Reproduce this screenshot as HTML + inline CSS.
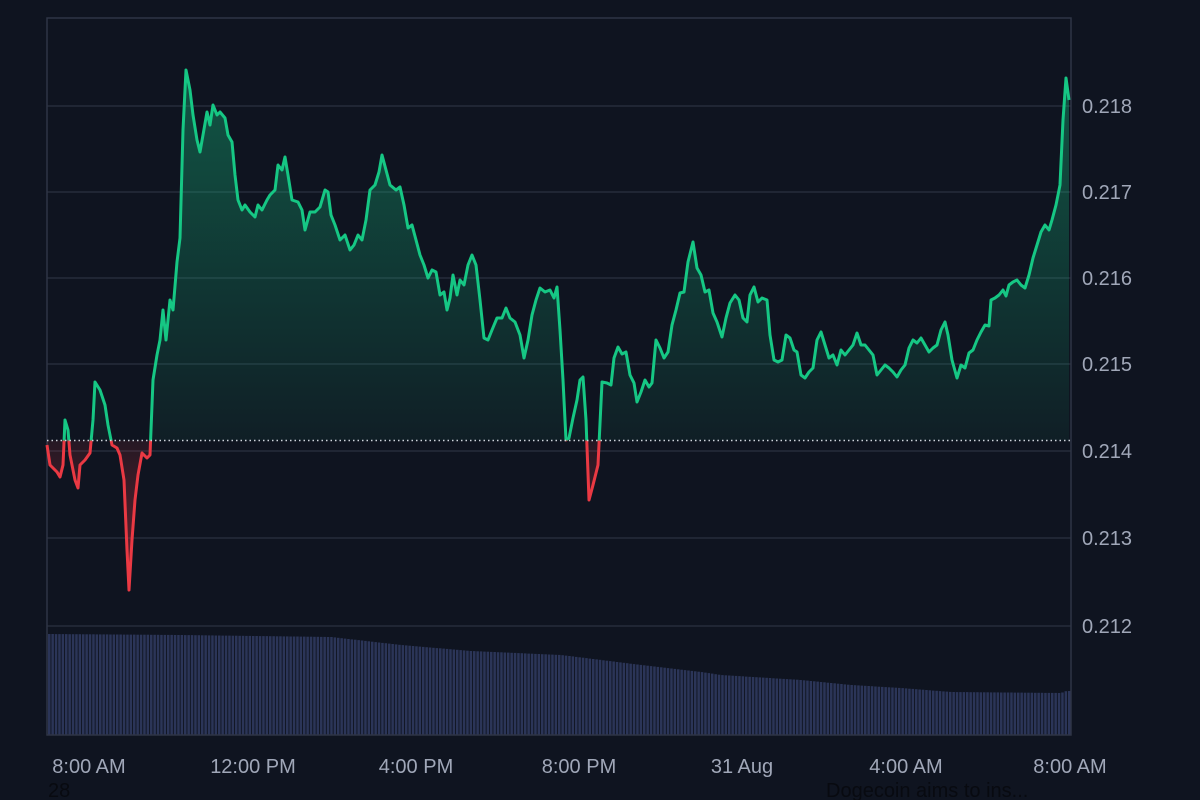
<!DOCTYPE html>
<html><head><style>
html,body{margin:0;padding:0;background:#0f1420;width:1200px;height:800px;overflow:hidden;font-family:"Liberation Sans",sans-serif}
svg{position:absolute;left:0;top:0}
</style></head><body>
<svg id="s" width="1200" height="800" xmlns="http://www.w3.org/2000/svg">
<defs>
<linearGradient id="g" x1="0" y1="60" x2="0" y2="440" gradientUnits="userSpaceOnUse">
<stop offset="0" stop-color="#16c784" stop-opacity="0.38"/><stop offset="1" stop-color="#16c784" stop-opacity="0.06"/></linearGradient>
<linearGradient id="r" x1="0" y1="440" x2="0" y2="600" gradientUnits="userSpaceOnUse">
<stop offset="0" stop-color="#ea3943" stop-opacity="0.1"/><stop offset="1" stop-color="#ea3943" stop-opacity="0.45"/></linearGradient>
<clipPath id="ca"><rect x="0" y="0" width="1200" height="440.5"/></clipPath>
<clipPath id="cb"><rect x="0" y="440.5" width="1200" height="400"/></clipPath>
</defs>
<g stroke="#2a3040" stroke-width="1.2">
<line x1="47" y1="106" x2="1071" y2="106"/><line x1="47" y1="192" x2="1071" y2="192"/>
<line x1="47" y1="278" x2="1071" y2="278"/><line x1="47" y1="364" x2="1071" y2="364"/>
<line x1="47" y1="451" x2="1071" y2="451"/><line x1="47" y1="538" x2="1071" y2="538"/>
<line x1="47" y1="626" x2="1071" y2="626"/>
</g>
<g id="vol" fill="#2b3558"></g>
<rect x="47" y="18" width="1024" height="717" fill="none" stroke="#2f3545" stroke-width="1.5"/>
<g id="ar"></g>
<line x1="47" y1="440.5" x2="1071" y2="440.5" stroke="#d0d4dc" stroke-width="1.5" stroke-dasharray="1.5,3"/>
<g fill="#a0a7b8" font-size="20">
<text x="1082" y="113">0.218</text><text x="1082" y="199">0.217</text><text x="1082" y="285">0.216</text>
<text x="1082" y="371">0.215</text><text x="1082" y="458">0.214</text><text x="1082" y="545">0.213</text>
<text x="1082" y="633">0.212</text>
<text x="89" y="773" text-anchor="middle">8:00 AM</text><text x="253" y="773" text-anchor="middle">12:00 PM</text>
<text x="416" y="773" text-anchor="middle">4:00 PM</text><text x="579" y="773" text-anchor="middle">8:00 PM</text>
<text x="742" y="773" text-anchor="middle">31 Aug</text><text x="906" y="773" text-anchor="middle">4:00 AM</text>
<text x="1070" y="773" text-anchor="middle">8:00 AM</text>
</g>
<text x="48" y="797" font-size="20" fill="#080a10">28</text>
<text x="826" y="797" font-size="20" fill="#080a10">Dogecoin aims to ins...</text>
</svg>
<script>
var P=[47,445,50,465,57,472,60,477,63,465,65,420,68,430,70,455,75,480,78,488,80,465,85,460,90,453,93,420,95,382,100,390,105,405,108,425,112,445,117,448,120,455,124,480,127,550,129,590,132,540,135,500,138,475,142,453,147,458,150,455,153,380,157,355,160,340,163,310,166,340,170,300,173,310,177,262,180,238,183,130,186,70,190,90,193,115,197,140,200,152,203,135,207,112,210,125,213,105,217,115,220,112,225,118,228,135,232,142,235,175,238,200,242,210,245,205,250,212,255,217,258,205,262,210,267,200,270,195,275,190,278,165,282,170,285,157,288,175,292,200,298,202,302,210,305,230,310,212,315,212,320,207,325,190,328,192,331,215,335,225,340,240,345,235,350,250,354,245,358,235,362,240,366,220,370,190,375,185,379,172,382,155,386,170,390,185,396,190,400,187,404,205,408,228,412,225,416,240,420,255,424,265,428,278,432,270,436,272,440,295,444,292,447,310,450,298,453,275,457,295,460,280,464,285,468,265,472,255,476,265,480,300,484,338,488,340,492,330,497,318,502,318,506,308,510,318,515,322,520,335,524,358,528,340,532,315,536,300,540,288,545,292,550,290,554,298,557,287,560,330,563,380,566,440,569,438,573,418,577,400,580,380,583,377,586,420,589,500,593,485,598,465,602,382,607,383,611,385,614,358,618,347,622,354,626,352,630,375,634,383,637,402,641,392,645,380,649,387,652,383,656,340,660,348,664,358,668,352,672,325,676,310,680,293,684,292,688,262,693,242,697,268,701,275,705,292,709,290,713,313,717,322,722,337,726,318,730,303,735,295,739,300,743,318,747,322,750,295,754,287,758,302,762,298,767,300,770,335,774,360,778,362,782,360,786,335,790,338,794,350,797,352,801,375,805,378,809,372,813,368,817,340,821,332,825,345,829,358,833,355,837,365,841,350,845,355,849,350,853,345,857,333,861,345,865,345,869,350,873,355,877,375,881,370,885,365,889,368,893,372,897,377,901,370,905,365,909,348,913,340,917,343,921,338,925,345,929,352,933,348,937,345,941,330,945,322,948,335,952,360,957,378,961,365,965,368,969,353,973,350,977,340,981,332,985,325,989,326,991,300,995,298,999,295,1003,290,1006,296,1009,285,1013,282,1017,280,1021,285,1025,288,1029,275,1033,258,1037,245,1041,232,1045,225,1049,230,1052,220,1056,205,1060,185,1063,120,1066,78,1069,100];
var pts=[];for(var i=0;i<P.length;i+=2)pts.push(P[i]+','+P[i+1]);
var line=pts.join(' ');var area='47,440.5 '+line+' 1069,440.5';
var ns='http://www.w3.org/2000/svg';
document.getElementById('ar').innerHTML=
'<polygon points="'+area+'" fill="url(#g)" clip-path="url(#ca)"/>'+
'<polygon points="'+area+'" fill="url(#r)" clip-path="url(#cb)"/>'+
'<polyline points="'+line+'" fill="none" stroke="#16c784" stroke-width="3" stroke-linejoin="round" clip-path="url(#ca)"/>'+
'<polyline points="'+line+'" fill="none" stroke="#ea3943" stroke-width="3" stroke-linejoin="round" clip-path="url(#cb)"/>';
var V=[[47,634],[180,635],[330,637],[400,645],[470,651],[560,655],[600,660],[640,665],[700,672],[720,675],[800,680],[850,685],[900,688],[950,692],[1060,693],[1065,691],[1070,691]];
function vt(x){for(var k=0;k<V.length-1;k++){if(x<=V[k+1][0]){var t=(x-V[k][0])/(V[k+1][0]-V[k][0]);return V[k][1]+t*(V[k+1][1]-V[k][1]);}}return V[V.length-1][1];}
var h='';for(var x=48;x<1069;x+=3.4){var y=vt(x);h+='<rect x="'+x.toFixed(1)+'" y="'+y.toFixed(1)+'" width="2.5" height="'+(735-y).toFixed(1)+'"/>';}
document.getElementById('vol').innerHTML=h;
</script>
</body></html>
